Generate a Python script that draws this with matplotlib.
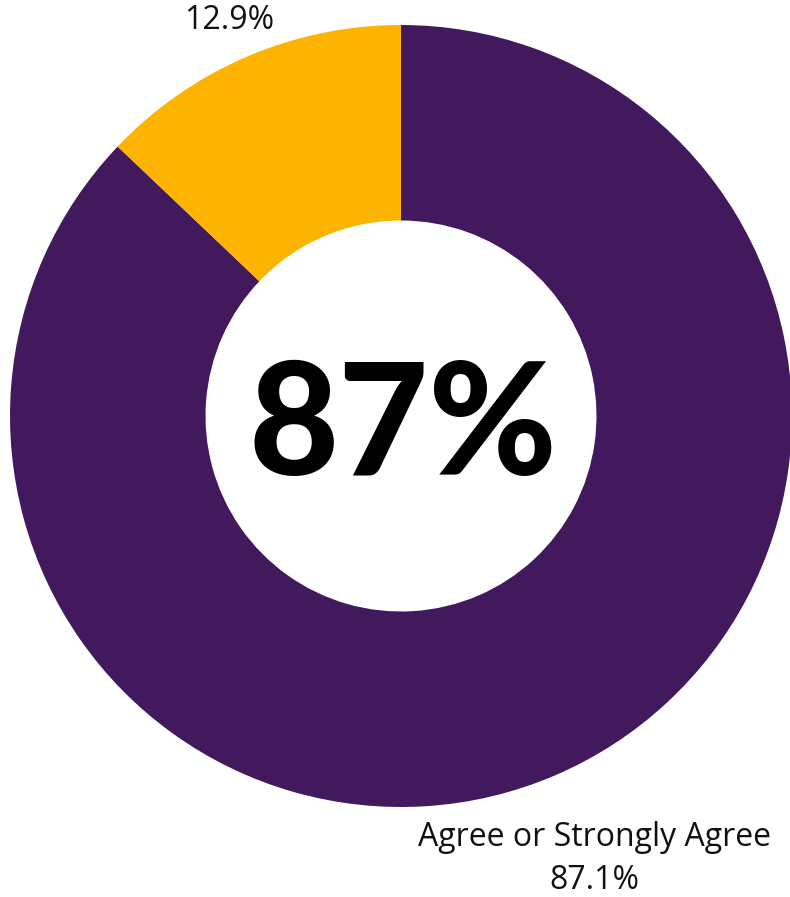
import matplotlib
matplotlib.use('Agg')
import matplotlib.pyplot as plt

# Survey response split
labels = ['Agree or Strongly Agree', '']
shares = [87.1, 12.9]
colors = ['#42195C', '#FDB400']
headline = '87%'

W, H = 790, 897
fig = plt.figure(figsize=(W / 100, H / 100), dpi=100)
ax = fig.add_axes([0, 0, 1, 1])

cx, cy, r = 401, H - 416, 391
ax.pie(shares, colors=colors, startangle=90, counterclock=False,
       center=(cx, cy), radius=r, frame=True,
       wedgeprops=dict(width=r * 0.5, linewidth=0))
ax.set_xlim(0, W)
ax.set_ylim(0, H)
ax.set_aspect('equal')
ax.axis('off')

ax.text(cx + 2, cy, headline, ha='center', va='center_baseline',
        fontsize=112, fontweight='black', family='Lato', color='black')

ax.text(229, H - 20, f'{shares[1]}%', ha='center', va='center',
        fontsize=23, family='Open Sans', color='#111111')
ax.text(594, H - 837, labels[0], ha='center', va='center',
        fontsize=23, family='Open Sans', color='#111111')
ax.text(594, H - 880, f'{shares[0]}%', ha='center', va='center',
        fontsize=23, family='Open Sans', color='#111111')

fig.savefig('out.png', dpi=100)
